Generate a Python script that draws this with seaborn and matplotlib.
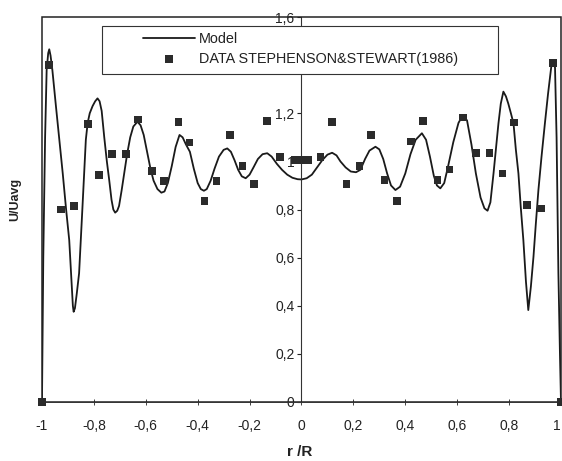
import numpy as np
import pandas as pd
import matplotlib
matplotlib.use("Agg")
import matplotlib.pyplot as plt
from matplotlib.patches import Rectangle
import seaborn as sns

# ---- data ----
model_r = [-1.000, -0.995, -0.988, -0.982, -0.976, -0.972, -0.967, -0.960, -0.946, -0.932,
           -0.920, -0.907, -0.895, -0.887, -0.881, -0.878, -0.873, -0.866, -0.857, -0.850,
           -0.844, -0.837, -0.831, -0.824, -0.816, -0.805, -0.795, -0.786, -0.778, -0.770,
           -0.760, -0.750, -0.741, -0.732, -0.725, -0.718, -0.710, -0.703, -0.693, -0.683,
           -0.672, -0.660, -0.648, -0.632, -0.620, -0.608, -0.595, -0.582, -0.570, -0.555,
           -0.540, -0.528, -0.515, -0.500, -0.485, -0.470, -0.458, -0.445, -0.430, -0.415,
           -0.400, -0.388, -0.376, -0.365, -0.350, -0.335, -0.318, -0.300, -0.286, -0.272,
           -0.258, -0.244, -0.230, -0.215, -0.200, -0.185, -0.168, -0.150, -0.132, -0.115,
           -0.095, -0.075, -0.055, -0.035, -0.015, 0.000,
           0.020, 0.040, 0.060, 0.080, 0.100, 0.118, 0.135, 0.150, 0.170, 0.190,
           0.210, 0.227, 0.245, 0.262, 0.285, 0.300, 0.315, 0.330, 0.345, 0.362,
           0.380, 0.400, 0.420, 0.440, 0.464, 0.480, 0.495, 0.510, 0.522, 0.535,
           0.550, 0.565, 0.585, 0.605, 0.622, 0.638, 0.655, 0.672, 0.690, 0.705,
           0.717, 0.728, 0.740, 0.750, 0.759, 0.768, 0.778, 0.788, 0.797, 0.807,
           0.817, 0.826, 0.836, 0.845, 0.855, 0.865, 0.874, 0.884, 0.894, 0.903,
           0.913, 0.925, 0.938, 0.950, 0.964, 0.970, 0.977, 0.983, 0.990, 0.996, 1.000]
model_v = [0.00, 0.60, 1.10, 1.38, 1.45, 1.466, 1.44, 1.38, 1.227, 1.08,
           0.95, 0.80, 0.673, 0.52, 0.40, 0.375, 0.39, 0.45, 0.535, 0.68,
           0.81, 0.96, 1.09, 1.16, 1.20, 1.23, 1.25, 1.262, 1.25, 1.21,
           1.10, 1.00, 0.923, 0.84, 0.80, 0.787, 0.795, 0.815, 0.88, 0.95,
           1.03, 1.10, 1.145, 1.165, 1.15, 1.11, 1.04, 0.97, 0.92, 0.885,
           0.870, 0.875, 0.91, 0.98, 1.06, 1.11, 1.10, 1.07, 1.04, 0.97,
           0.91, 0.885, 0.878, 0.885, 0.92, 0.97, 1.02, 1.048, 1.054, 1.04,
           1.005, 0.965, 0.938, 0.930, 0.945, 0.975, 1.01, 1.03, 1.034, 1.02,
           0.99, 0.965, 0.945, 0.932, 0.926, 0.925,
           0.930, 0.945, 0.975, 1.005, 1.028, 1.036, 1.025, 1.00, 0.975, 0.958,
           0.955, 0.965, 1.01, 1.045, 1.061, 1.05, 1.01, 0.95, 0.90, 0.881,
           0.895, 0.95, 1.03, 1.09, 1.117, 1.09, 1.02, 0.94, 0.90, 0.888,
           0.91, 0.98, 1.08, 1.16, 1.193, 1.17, 1.07, 0.95, 0.85, 0.805,
           0.795, 0.83, 0.95, 1.06, 1.158, 1.24, 1.29, 1.27, 1.24, 1.20,
           1.158, 1.05, 0.95, 0.81, 0.673, 0.50, 0.382, 0.48, 0.604, 0.74,
           0.881, 1.02, 1.158, 1.28, 1.407, 1.415, 1.39, 1.10, 0.536, 0.20, 0.00]

data_r = [-1.000, -0.974, -0.926, -0.876, -0.822, -0.780, -0.730, -0.677, -0.630, -0.577,
          -0.530, -0.474, -0.431, -0.373, -0.328, -0.276, -0.228, -0.183, -0.132, -0.083,
          -0.026, 0.000, 0.024, 0.073, 0.118, 0.173, 0.223, 0.268, 0.320, 0.368,
          0.423, 0.468, 0.524, 0.570, 0.622, 0.673, 0.724, 0.774, 0.820, 0.870,
          0.922, 0.970, 1.000]
data_v = [0.000, 1.400, 0.800, 0.815, 1.155, 0.943, 1.030, 1.030, 1.175, 0.961,
          0.918, 1.165, 1.079, 0.835, 0.918, 1.110, 0.982, 0.906, 1.167, 1.018,
          1.006, 1.006, 1.006, 1.018, 1.165, 0.905, 0.982, 1.110, 0.923, 0.835,
          1.082, 1.169, 0.923, 0.967, 1.183, 1.034, 1.034, 0.950, 1.162, 0.820,
          0.805, 1.408, 0.000]

x_ticks = [-1, -0.8, -0.6, -0.4, -0.2, 0, 0.2, 0.4, 0.6, 0.8, 1]
x_labels = ["-1", "-0,8", "-0,6", "-0,4", "-0,2", "0", "0,2", "0,4", "0,6", "0,8", "1"]
y_ticks = [0, 0.2, 0.4, 0.6, 0.8, 1.0, 1.2, 1.4, 1.6]
y_labels = ["0", "0,2", "0,4", "0,6", "0,8", "1", "1,2", "", "1,6"]

series_model = "Model"
series_data = "DATA STEPHENSON&STEWART(1986)"
x_title = "r /R"
y_title = "U/Uavg"

# ---- plotting ----
sns.set_theme(style="white")
plt.rcParams["font.family"] = ["Liberation Sans", "DejaVu Sans"]

fig = plt.figure(figsize=(5.62, 4.61), dpi=100)
ax = fig.add_axes([0.0747, 0.128, 0.9235, 0.835])

model_df = pd.DataFrame({"r": model_r, "v": model_v})
data_df = pd.DataFrame({"r": data_r, "v": data_v})

sns.lineplot(data=model_df, x="r", y="v", ax=ax, color="#1a1a1a", lw=1.3,
             label=series_model, sort=False, estimator=None)
sns.scatterplot(data=data_df, x="r", y="v", ax=ax, marker="s", s=30,
                color="#2b2b2b", edgecolor="none", linewidth=0,
                label=series_data, clip_on=False, zorder=3)

ax.set_xlim(-1, 1)
ax.set_ylim(0, 1.6)

ax.spines["left"].set_position(("data", 0))
ax.spines["left"].set_color("#333333")
ax.spines["left"].set_linewidth(0.8)
ax.spines["right"].set_visible(False)
ax.spines["top"].set_visible(False)
ax.spines["bottom"].set_color("#777777")
ax.spines["bottom"].set_linewidth(0.7)

# outer frame
ax.add_patch(Rectangle((0, 0), 1, 1, transform=ax.transAxes, fill=False,
                       edgecolor="#222222", lw=1.1, zorder=2.6, clip_on=False))

ax.set_xticks(x_ticks)
ax.set_xticklabels(x_labels)
ax.set_yticks(y_ticks)
ax.set_yticklabels(y_labels)
ax.tick_params(axis="y", left=True, direction="out", length=3, width=0.8,
               pad=2, labelsize=10, colors="#222222")
ax.tick_params(axis="x", bottom=True, direction="inout", length=4, width=0.6,
               pad=10, labelsize=10, colors="#222222")
ax.get_xticklabels()[-1].set_horizontalalignment("right")

ax.set_xlabel(x_title, fontsize=11, fontweight="bold", color="#222222")
ax.xaxis.set_label_coords(0.497, -0.112)
ax.set_ylabel(y_title, fontsize=9, fontweight="bold", color="#222222")
ax.yaxis.set_label_coords(-0.040, 0.525)

# legend box (opaque)
ax.add_patch(Rectangle((0.1156, 0.852), 0.763, 0.125, transform=ax.transAxes,
                       facecolor="white", edgecolor="#333333", lw=0.8, zorder=4))
handles, labels = ax.get_legend_handles_labels()
leg = ax.legend(handles, labels, loc="upper left", bbox_to_anchor=(0.181, 0.981),
                frameon=False, borderpad=0, handlelength=3.6, handletextpad=0.25,
                labelspacing=0.42, fontsize=10.4)
leg.set_zorder(5)
for t in leg.get_texts():
    t.set_color("#222222")

fig.savefig("out.png", dpi=100)
